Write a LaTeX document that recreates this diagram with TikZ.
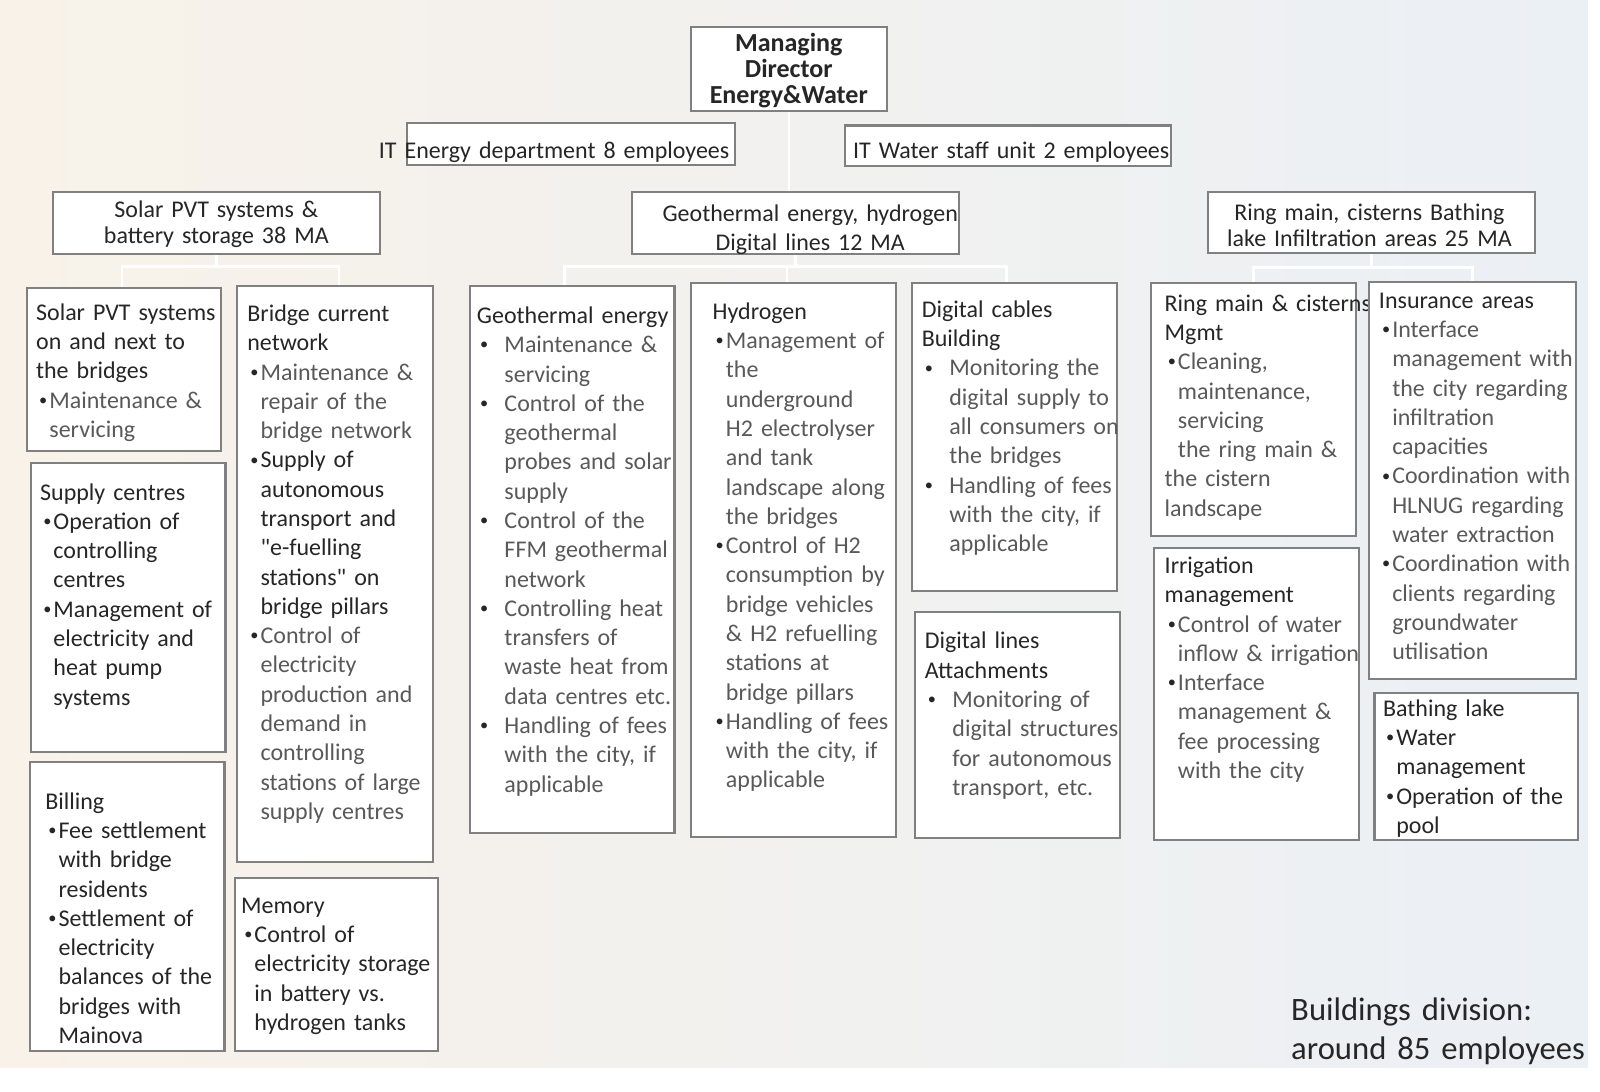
\documentclass[tikz,border=0pt]{standalone}
\usepackage{fontspec}
\setmainfont{Carlito}
\usetikzlibrary{fit}

\definecolor{boxline}{HTML}{808080}
\definecolor{txtdark}{HTML}{262626}
\definecolor{txtgray}{HTML}{595959}
\definecolor{bgwarm}{HTML}{F8F2E9}
\definecolor{bgcool}{HTML}{EBF0F5}

\newcommand{\dotmark}{\raisebox{1.4pt}{\fontsize{8}{8}\selectfont\textcolor{txtdark}{\textbullet}}}
\newcommand{\itemdot}[1][5pt]{\hspace*{1.5pt}\makebox[#1][l]{\dotmark}}
\newcommand{\itemcont}[1][6.5pt]{\hspace*{#1}}
\newcommand{\lite}{\color{txtgray}}

\tikzset{
  unitbox/.style={draw=boxline, line width=1pt, fill=white, inner sep=0pt},
  unittext/.style={anchor=base west, inner sep=0pt, text width=115pt, align=left,
    text=txtdark, font=\fontsize{11.75}{14.35}\selectfont},
  headtext/.style={anchor=base, inner sep=0pt, text width=180pt, align=center,
    text=txtdark, font=\fontsize{11.75}{13}\selectfont},
  link/.style={draw=white, line width=1.2pt},
}

\begin{document}
\begin{tikzpicture}[x=0.5pt, y=-0.5pt]
\useasboundingbox (0,0) rectangle (1568,1070);
\fill[white] (0,0) rectangle (1568,1070);
\shade[left color=bgwarm, right color=bgcool] (0,0) rectangle (1556,1046);

% management and staff units
\node[unitbox, fit={(677,26) (869,109)}] (md) {};
\node[headtext, font=\bfseries\fontsize{12.75}{12.75}\selectfont] (md-txt) at (773,50)
  {Managing\\Director\\Energy\&Water};
\node[unitbox, fit={(399,121) (720,162)}] (itenergy) {};
\node[headtext] (itenergy-txt) at (543,155) {IT Energy department 8 employees};
\node[unitbox, fit={(828,123) (1148,163)}] (itwater) {};
\node[headtext] (itwater-txt) at (991,155) {IT Water staff unit 2 employees};

% departments
\node[unitbox, fit={(52,188) (372,249)}] (solartop) {};
\node[headtext] (solartop-txt) at (212,213) {Solar PVT systems \&\\battery storage 38 MA};
\node[unitbox, fit={(619,188) (940,249)}] (geotop) {};
\node[headtext, font=\fontsize{11.75}{14}\selectfont] (geotop-txt) at (794,217)
  {Geothermal energy, hydrogen\\Digital lines 12 MA};
\node[unitbox, fit={(1184,188) (1504,248)}] (ringtop) {};
\node[headtext] (ringtop-txt) at (1342,216) {Ring main, cisterns Bathing\\lake Infiltration areas 25 MA};

% solar column
\node[unitbox, fit={(26,282) (217,442)}] (solarpvt) {};
\node[unittext] (solarpvt-txt) at ([shift={(10,33)}]solarpvt.north west)
  {Solar PVT systems\\on and next to\\the bridges\\
   {\lite\itemdot Maintenance \&\\\itemcont servicing}};
\node[unitbox, fit={(232,280) (424,845)}] (bridge) {};
\node[unittext] (bridge-txt) at ([shift={(11,36)}]bridge.north west)
  {Bridge current\\network\\
   {\lite\itemdot Maintenance \&\\\itemcont repair of the\\\itemcont bridge network}\\
   \itemdot Supply of\\\itemcont autonomous\\\itemcont transport and\\\itemcont \textquotedbl e-fuelling\\
   \itemcont stations\textquotedbl\ on\\\itemcont bridge pillars\\
   {\lite\itemdot Control of\\\itemcont electricity\\\itemcont production and\\\itemcont demand in\\
   \itemcont controlling\\\itemcont stations of large\\\itemcont supply centres}};
\node[unitbox, fit={(30,454) (221,737)}] (supply) {};
\node[unittext] (supply-txt) at ([shift={(10,37)}]supply.north west)
  {Supply centres\\
   \itemdot Operation of\\\itemcont controlling\\\itemcont centres\\
   \itemdot Management of\\\itemcont electricity and\\\itemcont heat pump\\\itemcont systems};
\node[unitbox, fit={(29,747) (220,1030)}] (billing) {};
\node[unittext] (billing-txt) at ([shift={(16,47)}]billing.north west)
  {Billing\\
   \itemdot Fee settlement\\\itemcont with bridge\\\itemcont residents\\
   \itemdot Settlement of\\\itemcont electricity\\\itemcont balances of the\\\itemcont bridges with\\
   \itemcont Mainova};
\node[unitbox, fit={(230,860) (429,1030)}] (memory) {};
\node[unittext] (memory-txt) at ([shift={(7,36)}]memory.north west)
  {Memory\\
   \itemdot Control of\\\itemcont electricity storage\\\itemcont in battery vs.\\\itemcont hydrogen tanks};

% geothermal column
\node[unitbox, fit={(461,280) (661,816)}] (geoth) {};
\node[unittext] (geoth-txt) at ([shift={(7,38)}]geoth.north west)
  {Geothermal energy\\
   {\lite\itemdot[12pt]Maintenance \&\\\itemcont[13.5pt]servicing\\
   \itemdot[12pt]Control of the\\\itemcont[13.5pt]geothermal\\\itemcont[13.5pt]probes and solar\\
   \itemcont[13.5pt]supply\\
   \itemdot[12pt]Control of the\\\itemcont[13.5pt]FFM geothermal\\\itemcont[13.5pt]network\\
   \itemdot[12pt]Controlling heat\\\itemcont[13.5pt]transfers of\\\itemcont[13.5pt]waste heat from\\
   \itemcont[13.5pt]data centres etc.\\
   \itemdot[12pt]Handling of fees\\\itemcont[13.5pt]with the city, if\\\itemcont[13.5pt]applicable}};
\node[unitbox, fit={(677,277) (878,820)}] (hydrogen) {};
\node[unittext] (hydrogen-txt) at ([shift={(22,37)}]hydrogen.north west)
  {Hydrogen\\
   {\lite\itemdot Management of\\\itemcont the\\\itemcont underground\\\itemcont H2 electrolyser\\
   \itemcont and tank\\\itemcont landscape along\\\itemcont the bridges\\
   \itemdot Control of H2\\\itemcont consumption by\\\itemcont bridge vehicles\\
   \itemcont \& H2 refuelling\\\itemcont stations at\\\itemcont bridge pillars\\
   \itemdot Handling of fees\\\itemcont with the city, if\\\itemcont applicable}};
\node[unitbox, fit={(894,277) (1095,579)}] (digcable) {};
\node[unittext] (digcable-txt) at ([shift={(10,35)}]digcable.north west)
  {Digital cables\\Building\\
   {\lite\itemdot[12pt]Monitoring the\\\itemcont[13.5pt]digital supply to\\
   \itemcont[13.5pt]all consumers on\\\itemcont[13.5pt]the bridges\\
   \itemdot[12pt]Handling of fees\\\itemcont[13.5pt]with the city, if\\\itemcont[13.5pt]applicable}};
\node[unitbox, fit={(897,600) (1098,821)}] (digline) {};
\node[unittext] (digline-txt) at ([shift={(10,37)}]digline.north west)
  {Digital lines\\Attachments\\
   {\lite\itemdot[12pt]Monitoring of\\\itemcont[13.5pt]digital structures\\
   \itemcont[13.5pt]for autonomous\\\itemcont[13.5pt]transport, etc.}};

% water column
\node[unitbox, fit={(1128,277) (1329,525)}] (ringmain) {};
\node[unittext] (ringmain-txt) at ([shift={(14,29)}]ringmain.north west)
  {Ring main \& cisterns\\Mgmt\\
   {\lite\itemdot Cleaning,\\\itemcont maintenance,\\\itemcont servicing\\\itemcont the ring main \&\\
   the cistern\\landscape}};
\node[unitbox, fit={(1342,276) (1544,665)}] (insur) {};
\node[unittext] (insur-txt) at ([shift={(10,27)}]insur.north west)
  {Insurance areas\\
   {\lite\itemdot Interface\\\itemcont management with\\\itemcont the city regarding\\
   \itemcont infiltration\\\itemcont capacities\\
   \itemdot Coordination with\\\itemcont HLNUG regarding\\\itemcont water extraction\\
   \itemdot Coordination with\\\itemcont clients regarding\\\itemcont groundwater\\\itemcont utilisation}};
\node[unitbox, fit={(1131,537) (1332,823)}] (irrig) {};
\node[unittext] (irrig-txt) at ([shift={(11,26)}]irrig.north west)
  {Irrigation\\management\\
   {\lite\itemdot Control of water\\\itemcont inflow \& irrigation\\
   \itemdot Interface\\\itemcont management \&\\\itemcont fee processing\\\itemcont with the city}};
\node[unitbox, fit={(1347,679) (1546,823)}] (bathing) {};
\node[unittext] (bathing-txt) at ([shift={(9,24)}]bathing.north west)
  {Bathing lake\\
   \itemdot Water\\\itemcont management\\
   \itemdot Operation of the\\\itemcont pool};

% connectors
\draw[link] (md.south) -- (md.south |- geotop.north);
\draw[link] (solartop.south) -- ++(0,11) -| ([shift={(-2,0)}]solarpvt.north);
\draw[link] (solartop.south) -- ++(0,11) -| ([shift={(4,0)}]bridge.north);
\draw[link] (geotop.south) -- ++(0,11) -| ([shift={(-8,0)}]geoth.north);
\draw[link] (geotop.south) -- ++(0,11) -| ([shift={(-6,0)}]hydrogen.north);
\draw[link] (geotop.south) -- ++(0,11) -| ([shift={(-8,0)}]digcable.north);
\draw[link] (ringtop.south) -- ++(0,13) -| (ringmain.north);
\draw[link] (ringtop.south) -- ++(0,13) -| (insur.north);

\node[anchor=base west, inner sep=0pt, text width=200pt, align=left, text=txtdark,
  font=\fontsize{16}{19}\selectfont] (division) at (1265,1000)
  {Buildings division:\\around 85 employees};
\end{tikzpicture}
\end{document}
